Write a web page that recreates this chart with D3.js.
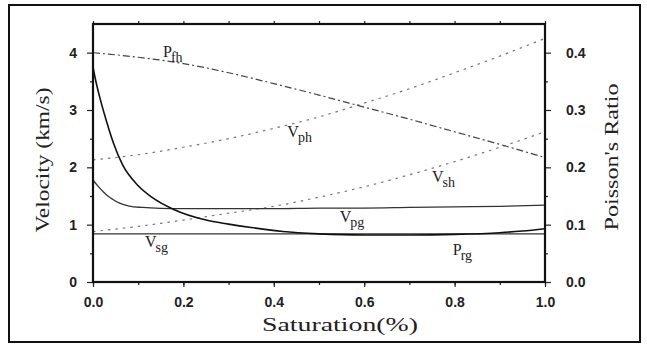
<!DOCTYPE html>
<html><head><meta charset="utf-8">
<script src="https://cdn.jsdelivr.net/npm/d3@7"></script>
<style>
body{margin:0;background:#fff;}
svg{display:block;}
.tick text{font-family:"Liberation Sans",Arial,sans-serif;font-weight:bold;font-size:14px;fill:#222;}
</style></head>
<body>
<svg id="c" width="647" height="355"></svg>
<script>
// ---- data ----
const satH = [0, 0.1, 0.2, 0.3, 0.4, 0.5, 0.6, 0.7, 0.8, 0.9, 1.0];
const vph = [2.13, 2.22, 2.35, 2.5, 2.68, 2.88, 3.12, 3.37, 3.65, 3.94, 4.25];
const vsh = [0.88, 0.97, 1.08, 1.2, 1.32, 1.48, 1.66, 1.87, 2.1, 2.35, 2.62];
const pfh = [0.40, 0.392, 0.381, 0.365, 0.346, 0.326, 0.305, 0.284, 0.262, 0.240, 0.217];
const satRg = [0, 0.005, 0.015, 0.03, 0.045, 0.065, 0.1, 0.13, 0.18, 0.25, 0.3, 0.35, 0.42, 0.5, 0.6, 0.7, 0.8, 0.9, 0.95, 1.0];
const prg = [0.375, 0.355, 0.322, 0.28, 0.243, 0.205, 0.168, 0.148, 0.126, 0.108, 0.101, 0.095, 0.088, 0.084, 0.082, 0.082, 0.083, 0.086, 0.089, 0.093];
const satPg = [0, 0.01, 0.022, 0.033, 0.044, 0.06, 0.08, 0.11, 0.15, 0.2, 0.3, 0.4, 0.5, 0.6, 0.7, 0.8, 0.9, 1.0];
const vpg = [1.78, 1.68, 1.58, 1.50, 1.44, 1.37, 1.325, 1.30, 1.285, 1.28, 1.28, 1.28, 1.29, 1.29, 1.30, 1.31, 1.32, 1.34];
const satSg = [0, 1.0];
const vsg = [0.84, 0.84];
const xTicks = [0, 0.2, 0.4, 0.6, 0.8, 1.0];
const yTicks = [0, 1, 2, 3, 4];
const pTicks = [0, 0.1, 0.2, 0.3, 0.4];
// labels: [main, sub, sat, value on velocity scale]
const labels = [
  ["P", "fh", 0.155, 3.92],
  ["V", "ph", 0.43, 2.53],
  ["V", "sh", 0.75, 1.74],
  ["V", "pg", 0.546, 1.05],
  ["V", "sg", 0.115, 0.61],
  ["P", "rg", 0.796, 0.47]
];

const svg = d3.select("#c");
const L = 93, R = 545, T = 24, B = 282;
const x = d3.scaleLinear().domain([0, 1]).range([L, R]);
const y = d3.scaleLinear().domain([0, 4.5]).range([B, T]);
const yp = d3.scaleLinear().domain([0, 0.45]).range([B, T]);

// outer border
svg.append("rect").attr("x", 9).attr("y", 5).attr("width", 631).attr("height", 337)
  .attr("fill", "none").attr("stroke", "#111").attr("stroke-width", 2);

// lines
function draw(xs, ys, sc, style) {
  const line = d3.line().x((d, i) => x(xs[i])).y(d => sc(d)).curve(d3.curveMonotoneX);
  const p = svg.append("path").attr("d", line(ys)).attr("fill", "none");
  for (const k in style) p.attr(k, style[k]);
}
draw(satH, vph, y, {stroke: "#777", "stroke-width": 1.2, "stroke-dasharray": "2.5,5"});
draw(satH, vsh, y, {stroke: "#777", "stroke-width": 1.2, "stroke-dasharray": "2.5,5"});
draw(satH, pfh, yp, {stroke: "#444", "stroke-width": 1.2, "stroke-dasharray": "7,3,2,3"});
draw(satSg, vsg, y, {stroke: "#333", "stroke-width": 1.3});
draw(satPg, vpg, y, {stroke: "#333", "stroke-width": 1.3});
draw(satRg, prg, yp, {stroke: "#111", "stroke-width": 1.6});

// axes
const fmt1 = d3.format(".1f");
const gB = svg.append("g").attr("transform", `translate(0,${B})`)
  .call(d3.axisBottom(x).tickValues(xTicks).tickFormat(fmt1).tickSize(5).tickPadding(10));
const gBm = svg.append("g").attr("transform", `translate(0,${B})`)
  .call(d3.axisBottom(x).ticks(10).tickFormat("").tickSize(3));
const gT = svg.append("g").attr("transform", `translate(0,${T})`)
  .call(d3.axisTop(x).ticks(10).tickFormat("").tickSize(3));
const gL = svg.append("g").attr("transform", `translate(${L},0)`)
  .call(d3.axisLeft(y).tickValues(yTicks).tickFormat(d3.format("d")).tickSize(6).tickPadding(10));
const gLm = svg.append("g").attr("transform", `translate(${L},0)`)
  .call(d3.axisLeft(y).tickValues(d3.range(0.5, 4.5, 1)).tickFormat("").tickSize(3));
const gR = svg.append("g").attr("transform", `translate(${R},0)`)
  .call(d3.axisRight(yp).tickValues(pTicks).tickFormat(fmt1).tickSize(6).tickPadding(15));
const gRm = svg.append("g").attr("transform", `translate(${R},0)`)
  .call(d3.axisRight(yp).tickValues(d3.range(0.05, 0.45, 0.1)).tickFormat("").tickSize(3));
[gB, gBm, gT, gL, gLm, gR, gRm].forEach(g => {
  g.select(".domain").remove();
  g.selectAll(".tick line").attr("stroke", "#222").attr("stroke-width", 1.2);
});
gB.selectAll(".tick text").attr("dy", "0.71em");

// frame
svg.append("rect").attr("x", L).attr("y", T).attr("width", R - L).attr("height", B - T)
  .attr("fill", "none").attr("stroke", "#111").attr("stroke-width", 2.2);

// axis titles
const serif = '"Liberation Serif","Times New Roman",serif';
svg.append("text").attr("x", 340).attr("y", 331).attr("text-anchor", "middle")
  .attr("font-family", serif).attr("font-size", 18).attr("fill", "#222")
  .attr("textLength", 156).attr("lengthAdjust", "spacingAndGlyphs").text("Saturation(%)");
svg.append("text").attr("transform", "translate(49,160) rotate(-90)").attr("text-anchor", "middle")
  .attr("font-family", serif).attr("font-size", 18).attr("fill", "#222")
  .attr("textLength", 145).attr("lengthAdjust", "spacingAndGlyphs").text("Velocity (km/s)");
svg.append("text").attr("transform", "translate(618,157) rotate(-90)").attr("text-anchor", "middle")
  .attr("font-family", serif).attr("font-size", 18).attr("fill", "#222")
  .attr("textLength", 147).attr("lengthAdjust", "spacingAndGlyphs").text("Poisson's Ratio");

// curve labels
labels.forEach(([m, s, sx, sv]) => {
  const t = svg.append("text").attr("x", x(sx)).attr("y", y(sv))
    .attr("font-family", serif).attr("font-size", 16).attr("fill", "#222");
  t.append("tspan").text(m);
  t.append("tspan").attr("font-size", 14).attr("dy", 5).attr("dx", -1).text(s);
});
</script>
</body></html>
